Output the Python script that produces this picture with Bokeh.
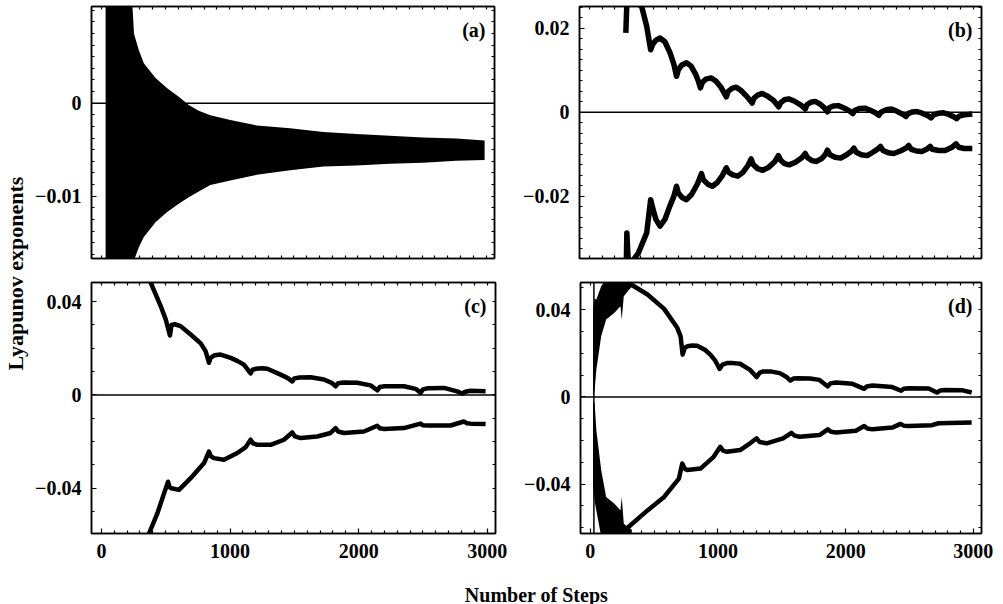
import math
from bokeh.plotting import figure
from bokeh.layouts import row, column
from bokeh.models import LinearAxis, FixedTicker, Range1d, Label, Span
from bokeh.embed import file_html
from bokeh.resources import INLINE
from bokeh.core.properties import value

FONT = "Liberation Serif"
X_RANGE = (-77, 3064)

# ---------------- axis ticks / labels ----------------
x_major_ticks = [0, 1000, 2000, 3000]
x_major_labels = ["0", "1000", "2000", "3000"]
x_minor_ticks = [s for s in range(100, 3001, 100) if s % 1000]

a_y_ticks = [-0.01, 0]
a_y_labels = ["\u22120.01", "0"]
b_y_ticks = [-0.02, 0, 0.02]
b_y_labels = ["\u22120.02", "0", "0.02"]
cd_y_ticks = [-0.04, 0, 0.04]
cd_y_labels = ["\u22120.04", "0", "0.04"]

# ---------------- panel (a): oscillating band (envelopes) ----------------
a_steps = [33, 60, 100, 150, 200, 240, 254, 292, 331, 422, 513, 603, 681, 759, 849,
           1005, 1212, 1471, 1730, 1989, 2248, 2507, 2766, 2987]
a_upper = [0.011, 0.011, 0.011, 0.011, 0.011, 0.011, 0.0075, 0.0057, 0.0043, 0.0027,
           0.0016, 0.0007, -0.0002, -0.0008, -0.0013, -0.0018, -0.0024, -0.0027,
           -0.0031, -0.0033, -0.0035, -0.0037, -0.0038, -0.0040]
a_lower = [-0.017, -0.017, -0.017, -0.017, -0.017, -0.017, -0.0169, -0.0155, -0.0144,
           -0.0128, -0.0117, -0.0108, -0.0101, -0.0095, -0.0088, -0.0083, -0.0077,
           -0.0072, -0.0068, -0.0067, -0.0065, -0.0064, -0.0062, -0.0061]

# ---------------- panel (b) ----------------
b_up_steps = [285, 293, 319, 370, 409, 448, 479, 495, 520, 552, 590, 630, 660, 681,
              695, 720, 759, 795, 830, 850, 868, 882, 910, 953, 990, 1030, 1070,
              1085, 1115, 1148, 1185, 1230, 1272, 1287, 1315, 1350, 1390, 1440, 1479,
              1495, 1525, 1557, 1600, 1650, 1687, 1700, 1730, 1764, 1800, 1835, 1860,
              1875, 1905, 1945, 1985, 2030, 2059, 2075, 2110, 2153, 2195, 2235, 2262,
              2280, 2320, 2360, 2400, 2445, 2474, 2490, 2525, 2559, 2600, 2645, 2671,
              2690, 2730, 2767, 2810, 2850, 2870, 2890, 2930, 2992]
b_up_vals = [0.0189, 0.0260, 0.0265, 0.0262, 0.0252, 0.0205, 0.0149, 0.0162, 0.0172, 0.0177,
             0.0168, 0.0142, 0.0115, 0.0086, 0.0101, 0.0112, 0.0118, 0.0110, 0.0091, 0.0076,
             0.0058, 0.0071, 0.0079, 0.0082, 0.0074, 0.0059, 0.0037, 0.0050, 0.0057, 0.0060,
             0.0052, 0.0038, 0.0022, 0.0034, 0.0041, 0.0045, 0.0039, 0.0028, 0.0013, 0.0023,
             0.0030, 0.0032, 0.0027, 0.0018, 0.0008, 0.0018, 0.0024, 0.0026, 0.0020, 0.0011,
             0.0001, 0.0011, 0.0015, 0.0016, 0.0011, 0.0004, -0.0003, 0.0005, 0.0009, 0.0010,
             0.0005, -0.0001, -0.0007, 0.0001, 0.0006, 0.0008, 0.0003, -0.0004, -0.0010,
             -0.0003, 0.0001, 0.0002, -0.0002, -0.0008, -0.0013, -0.0006, -0.0002, -0.0001,
             -0.0005, -0.0011, -0.0015, -0.0009, -0.0006, -0.0004]
b_lo_steps = [288, 293, 306, 383, 448, 479, 495, 520, 552, 590, 630, 660, 681,
              695, 725, 759, 800, 845, 876, 890, 925, 961, 1000, 1040, 1070,
              1085, 1120, 1161, 1200, 1240, 1264, 1280, 1315, 1355, 1400, 1450, 1477,
              1495, 1525, 1562, 1610, 1660, 1687, 1705, 1740, 1775, 1815, 1845, 1860,
              1880, 1920, 1964, 2010, 2050, 2067, 2085, 2125, 2171, 2215, 2255, 2275,
              2295, 2335, 2378, 2430, 2475, 2495, 2515, 2555, 2598, 2635, 2663,
              2680, 2730, 2780, 2830, 2865, 2885, 2930, 2992]
b_lo_vals = [-0.0375, -0.0287, -0.0367, -0.0335, -0.0287, -0.0208, -0.0228, -0.0255, -0.0271,
             -0.0255, -0.0222, -0.0200, -0.0176, -0.0192, -0.0203, -0.0208, -0.0195, -0.0170,
             -0.0146, -0.0160, -0.0171, -0.0176, -0.0167, -0.0150, -0.0132, -0.0142, -0.0149,
             -0.0152, -0.0143, -0.0126, -0.0111, -0.0124, -0.0134, -0.0138, -0.0131, -0.0117,
             -0.0103, -0.0114, -0.0122, -0.0125, -0.0119, -0.0108, -0.0098, -0.0108, -0.0115,
             -0.0117, -0.0110, -0.0100, -0.0090, -0.0101, -0.0107, -0.0109, -0.0101, -0.0092,
             -0.0085, -0.0095, -0.0101, -0.0103, -0.0095, -0.0087, -0.0081, -0.0091, -0.0096,
             -0.0098, -0.0092, -0.0085, -0.0079, -0.0088, -0.0092, -0.0093, -0.0088, -0.0081,
             -0.0088, -0.0091, -0.0091, -0.0084, -0.0075, -0.0083, -0.0086, -0.0086]

# ---------------- panel (c) ----------------
c_up_steps = [370, 383, 461, 500, 533, 545, 570, 616, 694, 772, 810, 836, 850, 880, 927,
              1005, 1060, 1108, 1160, 1175, 1199, 1250, 1290, 1393, 1450, 1484, 1500, 1540,
              1627, 1730, 1790, 1821, 1840, 1880, 1989, 2093, 2145, 2165, 2200, 2352, 2443,
              2481, 2500, 2540, 2663, 2766, 2805, 2830, 2870, 2987]
c_up_vals = [0.0520, 0.0482, 0.0381, 0.0324, 0.0255, 0.0300, 0.0303, 0.0295, 0.0259, 0.0221,
             0.0188, 0.0138, 0.0160, 0.0170, 0.0173, 0.0159, 0.0145, 0.0130, 0.0092, 0.0108,
             0.0112, 0.0114, 0.0112, 0.0087, 0.0072, 0.0058, 0.0071, 0.0075, 0.0076, 0.0066,
             0.0052, 0.0037, 0.0050, 0.0053, 0.0052, 0.0041, 0.0020, 0.0034, 0.0037, 0.0037,
             0.0026, 0.0009, 0.0024, 0.0029, 0.0030, 0.0015, 0.0006, 0.0014, 0.0018, 0.0016]
c_lo_steps = [360, 370, 435, 487, 518, 530, 544, 603, 694, 798, 836, 850, 875, 953, 1057,
              1120, 1160, 1180, 1212, 1316, 1419, 1484, 1505, 1549, 1678, 1782, 1821, 1840,
              1886, 2041, 2145, 2165, 2197, 2352, 2481, 2500, 2533, 2715, 2818, 2840, 2870, 2987]
c_lo_vals = [-0.0620, -0.0594, -0.0508, -0.0422, -0.0372, -0.0395, -0.0400, -0.0407, -0.0357,
             -0.0292, -0.0243, -0.0262, -0.0271, -0.0278, -0.0249, -0.0225, -0.0192, -0.0208,
             -0.0214, -0.0214, -0.0192, -0.0161, -0.0178, -0.0185, -0.0178, -0.0163, -0.0142,
             -0.0157, -0.0163, -0.0157, -0.0132, -0.0143, -0.0146, -0.0142, -0.0123, -0.0130,
             -0.0131, -0.0131, -0.0114, -0.0121, -0.0123, -0.0125]

# ---------------- panel (d) ----------------
d_up_steps = [319, 448, 578, 681, 707, 723, 740, 759, 800, 837, 900, 940, 980, 1013, 1035,
              1070, 1120, 1173, 1251, 1303, 1325, 1355, 1420, 1484, 1540, 1567, 1590, 1627,
              1720, 1795, 1860, 1880, 1925, 2054, 2145, 2165, 2210, 2365, 2435, 2455, 2495,
              2650, 2715, 2740, 2780, 2909, 2987]
d_up_vals = [0.0516, 0.0470, 0.0404, 0.0317, 0.0278, 0.0194, 0.0225, 0.0232, 0.0236, 0.0235,
             0.0215, 0.0194, 0.0165, 0.0128, 0.0148, 0.0155, 0.0155, 0.0152, 0.0124, 0.0091,
             0.0110, 0.0117, 0.0116, 0.0109, 0.0090, 0.0075, 0.0084, 0.0086, 0.0084, 0.0078,
             0.0048, 0.0062, 0.0066, 0.0060, 0.0037, 0.0048, 0.0052, 0.0045, 0.0028, 0.0037,
             0.0040, 0.0039, 0.0020, 0.0029, 0.0032, 0.0031, 0.0020]
d_lo_steps = [267, 448, 578, 694, 720, 740, 759, 863, 966, 1018, 1040, 1070, 1173, 1251, 1303,
              1325, 1381, 1510, 1575, 1600, 1640, 1795, 1860, 1885, 1925, 2080, 2145, 2170,
              2210, 2365, 2430, 2455, 2495, 2676, 2728, 2987]
d_lo_vals = [-0.0613, -0.0521, -0.0459, -0.0375, -0.0306, -0.0330, -0.0336, -0.0329, -0.0275,
             -0.0229, -0.0247, -0.0252, -0.0244, -0.0213, -0.0190, -0.0207, -0.0213, -0.0190,
             -0.0165, -0.0178, -0.0183, -0.0175, -0.0149, -0.0160, -0.0163, -0.0155, -0.0134,
             -0.0145, -0.0149, -0.0141, -0.0124, -0.0132, -0.0134, -0.0130, -0.0121, -0.0118]
# early transient of (d): envelopes of the fast oscillation
d_burst_steps = [21, 34, 47, 85, 124, 189, 236, 246, 262, 300, 325]
d_burst_up_hi = [0.040, 0.045, 0.0447, 0.0508, 0.054, 0.054, 0.054, 0.054, 0.054, 0.054, 0.054]
d_burst_up_lo = [0.000, 0.003, 0.0124, 0.0278, 0.0355, 0.0386, 0.0416, 0.0355, 0.0462, 0.0490, 0.0505]
d_burst_lo_hi = [-0.002, -0.003, -0.0152, -0.0336, -0.0459, -0.0490, -0.0521, -0.0459, -0.0582, -0.0600, -0.0610]
d_burst_lo_lo = [-0.040, -0.048, -0.0521, -0.064, -0.064, -0.064, -0.064, -0.064, -0.064, -0.064, -0.064]
d_spike_step = [28, 28]
d_spike_vals = [-0.064, 0.054]


def style_axis(ax, ticks, minor, labels, show):
    ax.axis_line_width = 1.5
    ax.axis_line_color = "black"
    ax.major_tick_out = 0
    ax.minor_tick_out = 0
    ax.major_tick_line_width = 1.2
    ax.minor_tick_line_width = 1.2
    ax.major_tick_line_color = "black"
    ax.minor_tick_line_color = "black"
    if show:
        ax.ticker = FixedTicker(ticks=ticks, minor_ticks=minor)
        ax.major_tick_in = 5
        ax.minor_tick_in = 3
        ax.major_label_overrides = {t: l for t, l in zip(ticks, labels)}
        ax.major_label_text_font = FONT
        ax.major_label_text_font_style = "bold"
        ax.major_label_text_font_size = "20px"
        ax.major_label_text_color = "black"
        ax.major_label_standoff = 10
    else:
        # mirror ticks only, no labels
        ax.ticker = FixedTicker(ticks=[], minor_ticks=sorted(list(ticks) + list(minor)))
        ax.major_tick_in = 0
        ax.minor_tick_in = 3
        ax.major_label_standoff = 0


def panel(width, height, bl, br, bt, bb, yr, yticks, yminor, ylabels, show_x, tag):
    p = figure(width=width, height=height, x_range=Range1d(*X_RANGE), y_range=Range1d(*yr),
               output_backend="svg", toolbar_location=None,
               x_axis_location=None, y_axis_location=None,
               min_border_left=bl, min_border_right=br, min_border_top=bt, min_border_bottom=bb)
    for g in p.grid:
        g.visible = False
    p.outline_line_color = "black"
    p.outline_line_width = 1.5
    p.background_fill_color = "white"
    p.border_fill_color = "white"
    for side in ("left", "right"):
        ax = LinearAxis()
        style_axis(ax, yticks, yminor, ylabels, side == "left")
        p.add_layout(ax, side)
    for side in ("below", "above"):
        ax = LinearAxis()
        style_axis(ax, x_major_ticks, x_minor_ticks, x_major_labels, show_x and side == "below")
        p.add_layout(ax, side)
    p.add_layout(Span(location=0, dimension="width", line_color="black", line_width=1.5))
    fw = width - bl - br
    fh = height - bt - bb
    lx = X_RANGE[1] - 9 * (X_RANGE[1] - X_RANGE[0]) / fw
    ly = yr[1] - 23 * (yr[1] - yr[0]) / fh
    p.add_layout(Label(x=lx, y=ly, text=tag, text_align="right", text_baseline="alphabetic",
                       text_font=FONT, text_font_style="bold", text_font_size="20px",
                       text_color="black"))
    return p


def minor_list(step, lo, hi, majors):
    out = []
    k = math.ceil(lo / step)
    while k * step <= hi:
        v = round(k * step, 6)
        if all(abs(v - m) > 1e-9 for m in majors):
            out.append(v)
        k += 1
    return out


a_range = (-0.0167, 0.0104)
b_range = (-0.0348, 0.0252)
c_range = (-0.0594, 0.0482)
d_range = (-0.0627, 0.0525)

# page has no margin: panels placed at the reference pixel positions
pa = panel(479, 270, 58, 17, 6, 12, a_range, a_y_ticks, minor_list(0.00125, *a_range, a_y_ticks),
           a_y_labels, False, "(a)")
pb = panel(487, 270, 68, 17, 6, 12, b_range, b_y_ticks, minor_list(0.0025, *b_range, b_y_ticks),
           b_y_labels, False, "(b)")
pc = panel(479, 300, 59, 16, 12, 37, c_range, cd_y_ticks, minor_list(0.01, *c_range, cd_y_ticks),
           cd_y_labels, True, "(c)")
pd = panel(487, 300, 69, 17, 12, 37, d_range, cd_y_ticks, minor_list(0.01, *d_range, cd_y_ticks),
           cd_y_labels, True, "(d)")

# data
pa.varea(x=a_steps, y1=a_lower, y2=a_upper, fill_color="black")

pb.line(b_up_steps, b_up_vals, line_width=5.5, line_color="black", line_join="round")
pb.line(b_lo_steps, b_lo_vals, line_width=5.5, line_color="black", line_join="round")

pc.line(c_up_steps, c_up_vals, line_width=4.5, line_color="black", line_join="round")
pc.line(c_lo_steps, c_lo_vals, line_width=4.5, line_color="black", line_join="round")

pd.varea(x=d_burst_steps, y1=d_burst_up_lo, y2=d_burst_up_hi, fill_color="black")
pd.varea(x=d_burst_steps, y1=d_burst_lo_lo, y2=d_burst_lo_hi, fill_color="black")
pd.line(d_spike_step, d_spike_vals, line_width=1.5, line_color="black")
pd.line(d_up_steps, d_up_vals, line_width=4.5, line_color="black", line_join="round")
pd.line(d_lo_steps, d_lo_vals, line_width=4.5, line_color="black", line_join="round")

# shared axis titles
YL_W, YL_H = 32, 604
ylab = figure(width=YL_W, height=YL_H, x_range=Range1d(0, YL_W), y_range=Range1d(0, YL_H),
              output_backend="svg", toolbar_location=None, min_border=0,
              x_axis_location=None, y_axis_location=None)
ylab.outline_line_color = None
for g in ylab.grid:
    g.visible = False
ylab.text(x=[15], y=[YL_H - 273], text=["Lyapunov exponents"], angle=math.pi / 2,
          text_font=value(FONT), text_font_style="bold", text_font_size="22px",
          text_align="center", text_baseline="middle", text_color="black")

XL_W, XL_H = 966, 34
xlab = figure(width=XL_W, height=XL_H, x_range=Range1d(0, XL_W), y_range=Range1d(0, XL_H),
              output_backend="svg", toolbar_location=None, min_border=0,
              x_axis_location=None, y_axis_location=None)
xlab.outline_line_color = None
for g in xlab.grid:
    g.visible = False
xlab.text(x=[504], y=[10], text=["Number of Steps"],
          text_font=value(FONT), text_font_style="bold", text_font_size="20px",
          text_align="center", text_baseline="alphabetic", text_color="black")

layout = row(ylab, column(row(pa, pb), row(pc, pd), xlab))

open("out.html", "w").write(file_html(layout, INLINE))
